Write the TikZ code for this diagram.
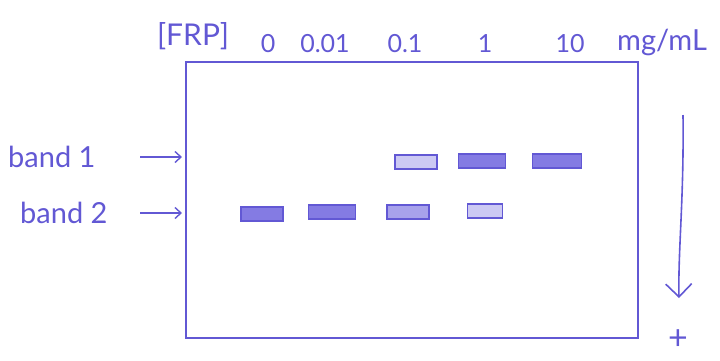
\documentclass[tikz,border=0pt]{standalone}
\usepackage{fontspec}
\setmainfont{Lato}
\usetikzlibrary{arrows.meta}
\definecolor{pen}{RGB}{98,88,212}
\definecolor{penfill}{RGB}{110,100,222}
\tikzset{
  handtext/.style={text=pen, inner sep=0pt, anchor=base, font=\fontsize{25}{25}\selectfont},
  biglabel/.style={text=pen, inner sep=0pt, anchor=base west, font=\fontsize{29}{29}\selectfont},
  gelbox/.style={draw=pen, line width=1.6pt, inner sep=0pt},
  bandbox/.style={draw=pen, line width=1.4pt, inner sep=0pt, minimum height=14pt},
  heavy/.style={bandbox, fill=penfill!85},
  medium/.style={bandbox, fill=penfill!60},
  light/.style={bandbox, fill=penfill!35},
  penarrow/.style={draw=pen, line width=1.4pt, -{Straight Barb[length=6pt,width=11pt]}},
}
\begin{document}
\begin{tikzpicture}[x=1pt,y=-1pt]
\useasboundingbox (0,0) rectangle (720,360);
% gel
\node[gelbox, minimum width=452pt, minimum height=276pt] (gel) at (412,200) {};
% header
\node[handtext, font=\fontsize{30}{30}\selectfont] (frp) at (193,45) {[FRP]};
\node[handtext] (c0) at (268,52) {0};
\node[handtext] (c1) at (325,52) {0.01};
\node[handtext] (c2) at (405,52) {0.1};
\node[handtext] (c3) at (485,52) {1};
\node[handtext] (c4) at (570,52) {10};
\node[handtext, font=\fontsize{29}{29}\selectfont] (unit) at (662,50) {mg/mL};
% band labels
\node[biglabel] (b1) at (8,167) {band 1};
\node[biglabel] (b2) at (20,223) {band 2};
\coordinate (b1end) at (182,157);
\coordinate (b2end) at (182,213);
\draw[penarrow] (140,157) -- (b1end);
\draw[penarrow] (140,213) -- (b2end);
% band 1 row
\node[light,  minimum width=42pt] (r1c2) at (416,162) {};
\node[heavy,  minimum width=47pt] (r1c3) at (482,161) {};
\node[heavy,  minimum width=49pt] (r1c4) at (557,161) {};
% band 2 row
\node[heavy,  minimum width=42pt] (r2c0) at (262,214) {};
\node[heavy,  minimum width=47pt] (r2c1) at (332,212) {};
\node[medium, minimum width=42pt] (r2c2) at (408,212) {};
\node[light,  minimum width=35pt] (r2c3) at (485,211) {};
% running direction
\coordinate (runtop) at (683,115);
\coordinate (runbot) at (679,298);
\draw[penarrow, line width=1.6pt, -{Straight Barb[length=13pt,width=26pt]}] (runtop) .. controls (684,200) and (678,250) .. (runbot);
\node[text=pen, font=\fontsize{34}{34}\selectfont, inner sep=0pt] (plus) at (678,340) {+};
\end{tikzpicture}
\end{document}
